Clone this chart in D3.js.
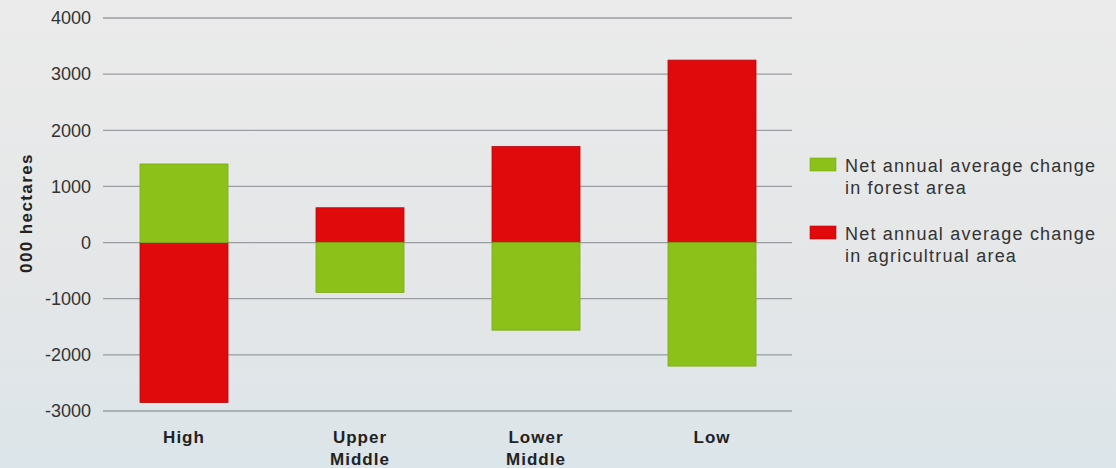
<!DOCTYPE html>
<html>
<head>
<meta charset="utf-8">
<script src="https://cdn.jsdelivr.net/npm/d3@7"></script>
<style>
	html, body { margin: 0; padding: 0; }
	body { width: 1116px; height: 468px; overflow: hidden;
		background: linear-gradient(180deg, #ebebeb 0%, #e4e6e7 60%, #dce5ea 100%); }
	svg { display: block; font-family: "Liberation Sans", Arial, sans-serif; }
</style>
</head>
<body>
<svg id="chart" width="1116" height="468"></svg>
<script>
(function(){

	var groups = ["High", "Upper Middle", "Lower Middle", "Low"];
	var forest = [1400, -890, -1560, -2200];
	var agri = [-2850, 620, 1710, 3250];
	var yTicks = [4000, 3000, 2000, 1000, 0, -1000, -2000, -3000];
	var seriesNames = ["Net annual average change in forest area", "Net annual average change in agricultrual area"];

	var colors = {forest: "#8cc11a", agri: "#e0090c"};
	var strokes = {forest: "#7aa814", agri: "#b8070a"};

	var svg = d3.select("#chart");

	var x = d3.scaleBand()
		.domain(groups)
		.range([96, 800])
		.paddingInner(0.5)
		.paddingOuter(0.25);

	var y = d3.scaleLinear()
		.domain([-3000, 4000])
		.range([411, 18]);

	// gridlines
	svg.append("g")
		.selectAll("line")
		.data(yTicks)
		.enter().append("line")
			.attr("x1", 103)
			.attr("x2", 792)
			.attr("y1", function(d){ return y(d); })
			.attr("y2", function(d){ return y(d); })
			.attr("stroke", "#9a9ea2")
			.attr("stroke-width", 1.3);

	// y tick labels
	svg.append("g")
		.selectAll("text")
		.data(yTicks)
		.enter().append("text")
			.attr("x", 91)
			.attr("y", function(d){ return y(d); })
			.attr("dy", "0.35em")
			.attr("text-anchor", "end")
			.attr("fill", "#333")
			.style("font-size", "18px")
			.text(function(d){ return d; });

	svg.append("text")
		.attr("transform", "translate(32,213) rotate(-90)")
		.attr("text-anchor", "middle")
		.attr("font-weight", "bold")
		.attr("fill", "#222")
		.style("font-size", "17px")
		.style("letter-spacing", "1.4px")
		.text("000 hectares");

	var rows = groups.map(function(g, i){
		return {group: g, forest: forest[i], agri: agri[i]};
	});

	function drawBars(key){
		svg.append("g")
			.selectAll("rect")
			.data(rows)
			.enter().append("rect")
				.attr("x", function(d){ return x(d.group); })
				.attr("width", x.bandwidth())
				.attr("y", function(d){ return y(Math.max(0, d[key])); })
				.attr("height", function(d){ return Math.abs(y(d[key]) - y(0)); })
				.attr("fill", colors[key])
				.attr("stroke", strokes[key])
				.attr("stroke-width", 0.8);
	}
	drawBars("agri");
	drawBars("forest");

	// x labels
	var xl = svg.append("g")
		.selectAll("text")
		.data(groups)
		.enter().append("text")
			.attr("x", function(d){ return x(d) + x.bandwidth() / 2; })
			.attr("y", 443)
			.attr("text-anchor", "middle")
			.attr("font-weight", "bold")
			.attr("fill", "#222")
			.style("font-size", "17px")
			.style("letter-spacing", "1px");
	xl.each(function(d){
		var words = d.split(" ");
		var t = d3.select(this);
		words.forEach(function(w, i){
			t.append("tspan")
				.attr("x", x(d) + x.bandwidth() / 2)
				.attr("dy", i === 0 ? 0 : 22)
				.text(w);
		});
	});

	// legend
	var legend = svg.append("g")
		.selectAll("g")
		.data(seriesNames)
		.enter().append("g")
			.attr("transform", function(d, i){ return "translate(810," + (158 + i * 68) + ")"; });

	legend.append("rect")
		.attr("width", 26)
		.attr("height", 13)
		.attr("fill", function(d, i){ return i === 0 ? colors.forest : colors.agri; })
		.attr("stroke", function(d, i){ return i === 0 ? strokes.forest : strokes.agri; })
		.attr("stroke-width", 0.6);

	legend.append("text")
		.attr("y", 14)
		.attr("fill", "#333")
		.style("font-size", "18px")
		.style("letter-spacing", "1.2px")
		.each(function(d){
			var t = d3.select(this);
			var parts = [d.slice(0, d.indexOf(" in ")), d.slice(d.indexOf(" in ") + 1)];
			parts.forEach(function(p, i){
				t.append("tspan")
					.attr("x", 35)
					.attr("dy", i === 0 ? 0 : 22)
					.text(p);
			});
		});

})();
</script>
</body>
</html>
